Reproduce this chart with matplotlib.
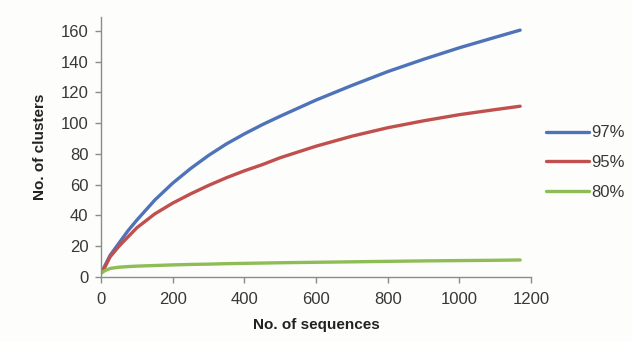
import numpy as np
from matplotlib import pyplot as plt

plt.rcParams['font.family'] = ['Liberation Sans', 'DejaVu Sans']

# values
seqs = [1, 10, 25, 50, 75, 100, 150, 200, 250, 300, 350, 400, 450, 500, 600, 700, 800, 900, 1000, 1100, 1170]
c97 = [3, 7, 14, 22, 30, 37, 50, 61, 70.5, 79, 86.5, 93, 99, 104.5, 115, 124.5, 133.5, 141.5, 149, 155.8, 160.5]
c95 = [3, 6, 13, 20, 26, 32, 41, 48, 54, 59.5, 64.5, 69, 73, 77.5, 85, 91.5, 97, 101.5, 105.5, 108.8, 111]
c80 = [2.5, 4, 5.5, 6.3, 6.7, 7, 7.4, 7.8, 8.1, 8.3, 8.6, 8.8, 9.0, 9.2, 9.5, 9.8, 10.1, 10.4, 10.6, 10.8, 11]

labels = ['97%', '95%', '80%']
colors = ['#4f73b8', '#c0504d', '#8fbd55']

fig = plt.figure(figsize=(6.32, 3.41), dpi=100, facecolor='#fdfdfb')
ax = fig.add_axes([0.160, 0.188, 0.680, 0.762])
ax.set_facecolor('#fdfdfb')

for ys, lab, col in zip([c97, c95, c80], labels, colors):
    ax.plot(seqs, ys, color=col, lw=2.4, label=lab, solid_capstyle='round')

ax.set_xlim(0, 1200)
ax.set_ylim(0, 169)
ax.set_xticks(range(0, 1201, 200))
ax.set_yticks(range(0, 161, 20))
ax.spines['top'].set_visible(False)
ax.spines['right'].set_visible(False)
for s in ['left', 'bottom']:
    ax.spines[s].set_color('#8c8c8c')
    ax.spines[s].set_linewidth(1.0)
ax.spines['bottom'].set_bounds(0, 1200)
ax.tick_params(colors='#8c8c8c', labelcolor='#383838', labelsize=12, length=4, width=1)
ax.tick_params(axis='x', pad=7)
ax.tick_params(axis='y', pad=5)

ax.set_xlabel('No. of sequences', fontsize=11, fontweight='bold', color='#222222', labelpad=8)
ax.set_ylabel('No. of clusters', fontsize=11, fontweight='bold', color='#222222', labelpad=10)

ax.legend(loc='center left', bbox_to_anchor=(1.0, 0.44), frameon=False, fontsize=12,
          handlelength=2.6, handletextpad=0.1, labelspacing=0.88, labelcolor='#383838')

fig.savefig('out.png', dpi=100, facecolor=fig.get_facecolor())
